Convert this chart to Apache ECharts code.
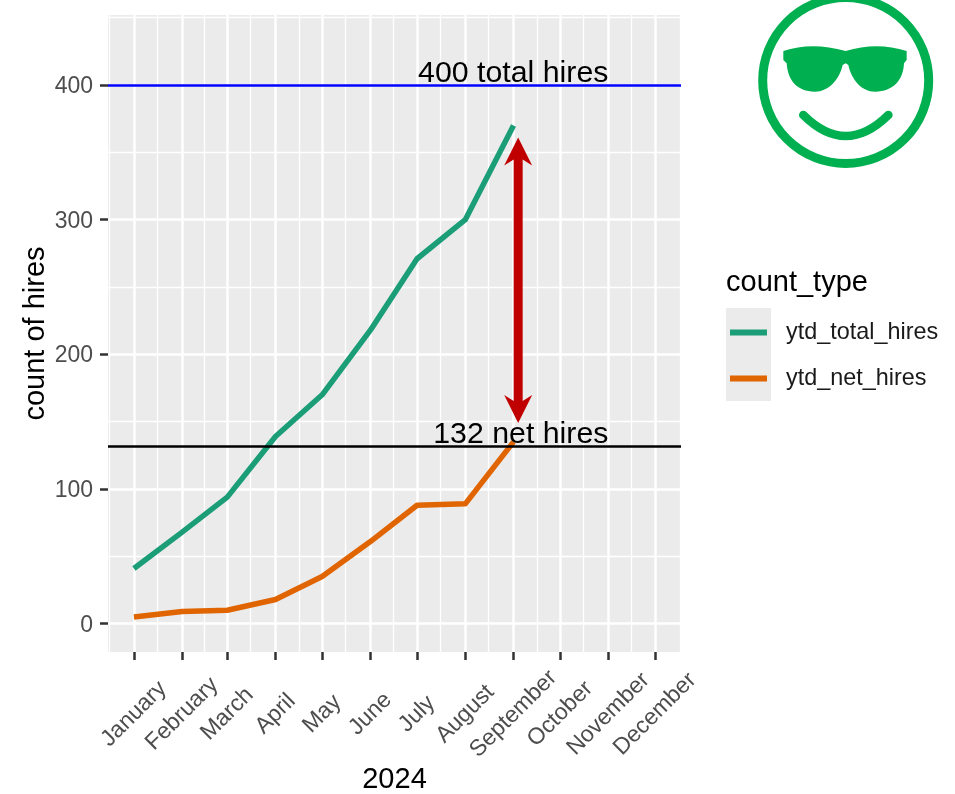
<!DOCTYPE html>
<html>
<head>
<meta charset="utf-8">
<title>ytd hires</title>
<script src="https://cdn.jsdelivr.net/npm/echarts@6/dist/echarts.min.js"></script>
<style>
html, body { margin: 0; padding: 0; background: #fff; }
#main { width: 955px; height: 794px; }
</style>
</head>
<body>
<div id="main"></div>
<script>
const months = ['January', 'February', 'March', 'April', 'May', 'June', 'July', 'August', 'September', 'October', 'November', 'December'];
const monthStarts = ['2024-01-01', '2024-02-01', '2024-03-01', '2024-04-01', '2024-05-01', '2024-06-01', '2024-07-01', '2024-08-01', '2024-09-01', '2024-10-01', '2024-11-01', '2024-12-01'];
const monthMids = ['2023-12-16', '2024-01-16', '2024-02-15', '2024-03-16', '2024-04-16', '2024-05-16', '2024-06-16', '2024-07-16', '2024-08-16', '2024-09-16', '2024-10-16', '2024-11-16', '2024-12-17'];
const ytdTotalHires = [41, 68, 94, 139, 170, 218, 271, 300, 370];
const ytdNetHires = [5, 9, 10, 18, 35, 61, 88, 89, 135];
const yTicks = [0, 100, 200, 300, 400];
const yMinor = [50, 150, 250, 350, 450];
const totalTarget = 400;
const netTarget = 132;
const notes = [
    { date: '2024-11-01', y: 400, text: '400 total hires' },
    { date: '2024-11-01', y: 132, text: '132 net hires' }
];
const arrowDate = '2024-09-04';
const arrowTop = 361;
const arrowBottom = 149;

const FONT = '"Liberation Sans", Arial, sans-serif';
const GREEN = '#00B050';
const RED = '#C00000';

// time axis chokes on customValues, so x runs on plain UTC milliseconds
function ms(d) {
    return Date.parse(d + 'T00:00:00Z');
}

function pairs(ys) {
    return ys.map(function (y, i) { return [ms(monthStarts[i]), y]; });
}

let myChart = echarts.init(document.getElementById('main'), null, { renderer: 'canvas' });

let option = {
    animation: false,
    backgroundColor: '#fff',
    textStyle: { fontFamily: FONT },
    grid: {
        show: true,
        left: 108, top: 15, width: 573, height: 637,
        outerBoundsMode: 'none',
        backgroundColor: '#EBEBEB',
        borderWidth: 0
    },
    legend: {
        left: 725,
        top: 316,
        orient: 'vertical',
        data: ['ytd_total_hires', 'ytd_net_hires'],
        selectedMode: false,
        icon: 'rect',
        itemWidth: 37,
        itemHeight: 6,
        itemGap: 23,
        textStyle: { fontFamily: FONT, fontSize: 23.4, color: '#1a1a1a', padding: [0, 0, 0, 14] }
    },
    xAxis: {
        type: 'value',
        min: ms('2023-12-15') + 8 * 3600000,
        max: ms('2024-12-17') + 16 * 3600000,
        name: '2024',
        nameLocation: 'middle',
        nameGap: 113,
        nameMoveOverlap: false,
        nameTextStyle: { fontFamily: FONT, fontSize: 29, color: '#000' },
        axisLine: { show: false, onZero: false },
        axisTick: { show: true, customValues: monthStarts.map(ms), length: 8, lineStyle: { color: '#333', width: 2.5 } },
        axisLabel: {
            customValues: monthStarts.map(ms),
            rotate: 45,
            align: 'center',
            verticalAlign: 'middle',
            margin: 62,
            hideOverlap: false,
            fontFamily: FONT,
            fontSize: 23,
            color: '#4D4D4D',
            formatter: function (value) { return months[new Date(value).getUTCMonth()]; }
        },
        splitLine: { show: true, lineStyle: { color: '#fff', width: 2.5 } }
    },
    yAxis: {
        type: 'value',
        min: -21,
        max: 452,
        name: 'count of hires',
        nameLocation: 'middle',
        nameGap: 58,
        nameMoveOverlap: false,
        nameTextStyle: { fontFamily: FONT, fontSize: 29, color: '#000' },
        axisLine: { show: false, onZero: false },
        axisTick: { show: true, customValues: yTicks, length: 8, lineStyle: { color: '#333', width: 2.5 } },
        axisLabel: {
            customValues: yTicks,
            margin: 15,
            verticalAlign: 'top',
            lineHeight: 3,
            fontFamily: FONT,
            fontSize: 23,
            color: '#4D4D4D'
        },
        splitLine: { show: true, lineStyle: { color: '#fff', width: 2.5 } }
    },
    series: [
        {
            // minor grid lines, same look as ggplot's panel.grid.minor
            type: 'line',
            data: [],
            silent: true,
            z: 1,
            markLine: {
                silent: true,
                z: 1,
                symbol: 'none',
                label: { show: false },
                animation: false,
                lineStyle: { color: '#fff', width: 1.3, type: 'solid' },
                data: monthMids.map(function (d) { return { xAxis: ms(d) }; })
                    .concat(yMinor.map(function (v) { return { yAxis: v }; }))
            }
        },
        {
            name: 'ytd_total_hires',
            type: 'line',
            data: pairs(ytdTotalHires),
            showSymbol: false,
            symbol: 'none',
            z: 3,
            color: '#1B9E77',
            lineStyle: { color: '#1B9E77', width: 5.5, cap: 'butt', join: 'round' }
        },
        {
            name: 'ytd_net_hires',
            type: 'line',
            data: pairs(ytdNetHires),
            showSymbol: false,
            symbol: 'none',
            z: 3,
            color: '#E06500',
            lineStyle: { color: '#E06500', width: 5.5, cap: 'butt', join: 'round' }
        },
        {
            // the two target lines
            type: 'line',
            data: [],
            silent: true,
            z: 4,
            markLine: {
                silent: true,
                z: 4,
                symbol: 'none',
                label: { show: false },
                animation: false,
                data: [
                    { yAxis: totalTarget, lineStyle: { color: '#0000FF', width: 2.6, type: 'solid' } },
                    { yAxis: netTarget, lineStyle: { color: '#000', width: 2.6, type: 'solid' } }
                ]
            }
        },
        {
            // gap arrow, tips sit on the data values
            type: 'custom',
            coordinateSystem: 'cartesian2d',
            silent: true,
            z: 4,
            data: [[ms(arrowDate), arrowTop, arrowBottom]],
            renderItem: function (params, api) {
                let top = api.coord([api.value(0), api.value(1)]);
                let bottom = api.coord([api.value(0), api.value(2)]);
                let x = top[0];
                return {
                    type: 'polygon',
                    shape: {
                        points: [
                            [x, top[1]],
                            [x + 14, top[1] + 28],
                            [x + 4.5, top[1] + 22],
                            [x + 4.5, bottom[1] - 22],
                            [x + 14, bottom[1] - 28],
                            [x, bottom[1]],
                            [x - 14, bottom[1] - 28],
                            [x - 4.5, bottom[1] - 22],
                            [x - 4.5, top[1] + 22],
                            [x - 14, top[1] + 28]
                        ]
                    },
                    style: { fill: RED }
                };
            }
        },
        {
            type: 'custom',
            coordinateSystem: 'cartesian2d',
            silent: true,
            z: 5,
            data: notes.map(function (n) { return [ms(n.date), n.y]; }),
            renderItem: function (params, api) {
                let p = api.coord([api.value(0), api.value(1)]);
                return {
                    type: 'text',
                    x: p[0],
                    y: p[1] + 4,
                    style: {
                        text: notes[params.dataIndex].text,
                        font: '30.3px ' + FONT,
                        fill: '#000',
                        align: 'right',
                        verticalAlign: 'bottom'
                    }
                };
            }
        },
        {
            // sunglasses smiley, graphic component has no path type so it lives here
            type: 'custom',
            coordinateSystem: 'none',
            silent: true,
            data: [0],
            renderItem: function () {
                return {
                    type: 'group',
                    x: 740,
                    y: 0,
                    scaleX: 1 / 3,
                    scaleY: 1 / 3,
                    children: [
                        {
                            type: 'path',
                            shape: { pathData: 'M130 153 Q215 125 317 153 Q410 125 500 153 L500 180 L492 190 C490 240 460 275 405 275 C365 275 335 240 325 195 L317 190 L308 195 C298 240 265 275 225 275 C170 275 143 240 140 190 L130 180 Z' },
                            style: { fill: GREEN }
                        },
                        {
                            type: 'path',
                            shape: { pathData: 'M190 345 Q317 471 445 345' },
                            style: { fill: 'none', stroke: GREEN, lineWidth: 26, lineCap: 'round' }
                        }
                    ]
                };
            }
        }
    ],
    graphic: [
        // legend key background and title
        { type: 'rect', z: -1, shape: { x: 726, y: 308, width: 45, height: 93 }, style: { fill: '#EBEBEB' } },
        { type: 'text', x: 726, y: 283, style: { text: 'count_type', font: '29px ' + FONT, fill: '#000', verticalAlign: 'middle' } },
        { type: 'circle', shape: { cx: 845.7, cy: 80.5, r: 83 }, style: { fill: 'none', stroke: GREEN, lineWidth: 9 } }
    ]
};

myChart.setOption(option);
</script>
</body>
</html>
